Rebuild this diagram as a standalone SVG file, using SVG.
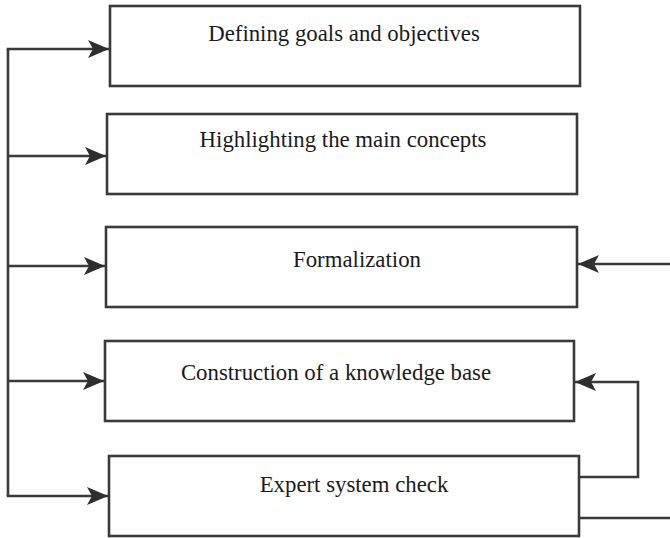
<svg xmlns="http://www.w3.org/2000/svg" width="670" height="538" viewBox="0 0 670 538">
<defs>
<marker id="ah" markerUnits="userSpaceOnUse" markerWidth="24" markerHeight="20" viewBox="-23 -10 24 20" refX="0" refY="0" orient="auto">
<path d="M0,0 L-21,-9 L-16,0 L-21,9 Z" fill="#2e2e2e"/>
</marker>
</defs>
<style>
.box{fill:#fff;stroke:#3a3a3a;stroke-width:2.6}
.lbl{font-family:"Liberation Serif","Times New Roman",serif;font-size:22.8px;fill:#1a1a1a;text-anchor:middle}
.ln{fill:none;stroke:#3a3a3a;stroke-width:2.6}
</style>
<rect width="670" height="538" fill="#fff"/>
<g id="connectors">
<path class="ln" d="M8,49 V496"/>
<path class="ln" d="M6.7,49 H109" marker-end="url(#ah)"/>
<path class="ln" d="M8,156 H106" marker-end="url(#ah)"/>
<path class="ln" d="M8,266 H105" marker-end="url(#ah)"/>
<path class="ln" d="M8,381 H104" marker-end="url(#ah)"/>
<path class="ln" d="M6.7,496 H108" marker-end="url(#ah)"/>
<path class="ln" d="M670,264 H578" marker-end="url(#ah)"/>
<path class="ln" d="M579,477 H638 V382 H575" marker-end="url(#ah)"/>
<path class="ln" d="M579,518 H670"/>
</g>
<g id="n1"><rect class="box" x="110" y="6" width="470" height="80"/><text class="lbl" x="344" y="41">Defining goals and objectives</text></g>
<g id="n2"><rect class="box" x="107" y="114" width="470" height="80"/><text class="lbl" x="343" y="147">Highlighting the main concepts</text></g>
<g id="n3"><rect class="box" x="106" y="227" width="471" height="80"/><text class="lbl" x="357" y="267">Formalization</text></g>
<g id="n4"><rect class="box" x="105" y="341" width="469" height="80"/><text class="lbl" x="336" y="380">Construction of a knowledge base</text></g>
<g id="n5"><rect class="box" x="109" y="456" width="470" height="80"/><text class="lbl" x="354" y="492">Expert system check</text></g>
</svg>
